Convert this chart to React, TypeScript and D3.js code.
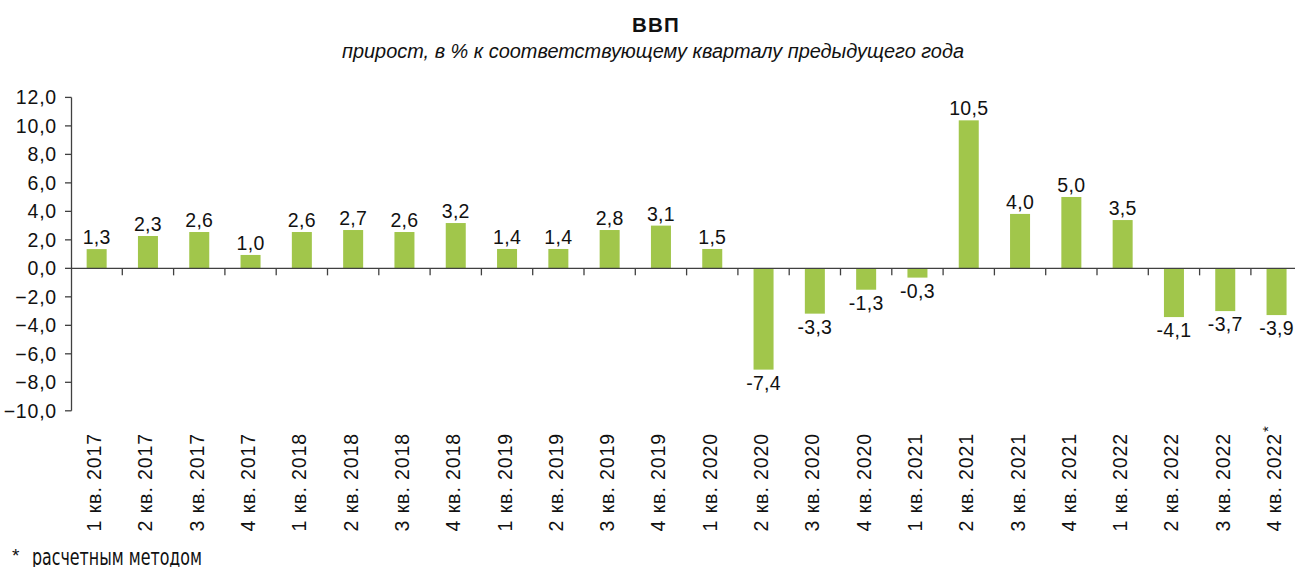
import React from "react";
import * as d3 from "d3";

const categories = [
  "1 кв. 2017", "2 кв. 2017", "3 кв. 2017", "4 кв. 2017",
  "1 кв. 2018", "2 кв. 2018", "3 кв. 2018", "4 кв. 2018",
  "1 кв. 2019", "2 кв. 2019", "3 кв. 2019", "4 кв. 2019",
  "1 кв. 2020", "2 кв. 2020", "3 кв. 2020", "4 кв. 2020",
  "1 кв. 2021", "2 кв. 2021", "3 кв. 2021", "4 кв. 2021",
  "1 кв. 2022", "2 кв. 2022", "3 кв. 2022", "4 кв. 2022",
];
// bar heights as drawn in the picture
const values = [
  1.35, 2.27, 2.55, 0.94, 2.55, 2.69, 2.55, 3.18, 1.36, 1.36, 2.69, 3.0,
  1.36, -7.11, -3.18, -1.5, -0.65, 10.39, 3.82, 5.01, 3.39, -3.42, -3.0, -3.28,
];
// data labels as printed
const labels = [
  "1,3", "2,3", "2,6", "1,0", "2,6", "2,7", "2,6", "3,2", "1,4", "1,4", "2,8", "3,1",
  "1,5", "-7,4", "-3,3", "-1,3", "-0,3", "10,5", "4,0", "5,0", "3,5", "-4,1", "-3,7", "-3,9",
];
const starred = [false, false, false, false, false, false, false, false, false, false, false, false,
  false, false, false, false, false, false, false, false, false, false, false, true];
const yTicks = [-10, -8, -6, -4, -2, 0, 2, 4, 6, 8, 10, 12];

const title = "ВВП";
const subtitle = "прирост, в % к соответствующему кварталу предыдущего года";
const footnote = "расчетным методом";

const W = 1295;
const H = 567;
const FONT = "'Liberation Sans', Arial, Helvetica, sans-serif";
const BAR = "#a1c64b";
const AXIS = "#404040";
const TXT = "#111";

export default function App() {
  const x = d3.scaleBand<string>().domain(categories).range([71, 71 + 24 * 51.3]).paddingInner(0.61).paddingOuter(0.305);
  const xb = d3.scaleBand<string>().domain(categories).range([71, 71 + 24 * 51.3]);
  const y = d3.scaleLinear().domain([-10, 12]).range([410.8, 97.4]);
  const fmt = (v: number) => d3.format(".1f")(v).replace(".", ",");
  const y0 = y(0);

  return (
    <svg width={W} height={H} style={{ position: "absolute", left: 0, top: 0, background: "#fff" }} fontFamily={FONT}>
      <rect width={W} height={H} fill="#fff" />
      <text x={656} y={32} textAnchor="middle" fontWeight="bold" fontSize={20.5} letterSpacing={1.2} fill={TXT}>{title}</text>
      <text x={653} y={58} textAnchor="middle" fontStyle="italic" fontSize={20} fill={TXT} textLength={622} lengthAdjust="spacingAndGlyphs">{subtitle}</text>

      {/* y axis */}
      <line x1={71.5} x2={71.5} y1={y(12)} y2={y(-10)} stroke={AXIS} strokeWidth={1.3} />
      {yTicks.map((t) => (
        <g key={t}>
          <line x1={65} x2={71.5} y1={y(t)} y2={y(t)} stroke={AXIS} strokeWidth={1.3} />
          <text x={57} y={y(t)} dy="0.36em" textAnchor="end" fontSize={19.5} letterSpacing={0.8} fill={TXT}>{fmt(t)}</text>
        </g>
      ))}

      {/* bars */}
      {categories.map((c, i) => {
        const v = values[i];
        const yt = v >= 0 ? y(v) : y0;
        const h = Math.abs(y(v) - y0);
        return <rect key={c} x={x(c)} y={yt} width={x.bandwidth()} height={h} fill={BAR} />;
      })}

      {/* zero line and ticks */}
      <line x1={71} x2={W} y1={y0} y2={y0} stroke={AXIS} strokeWidth={1.3} />
      {categories.slice(1).map((c) => (
        <line key={"t" + c} x1={xb(c)!} x2={xb(c)!} y1={y0} y2={y0 + 7} stroke={AXIS} strokeWidth={1.3} />
      ))}

      {/* data labels */}
      {categories.map((c, i) => {
        const v = values[i];
        const cx = x(c)! + x.bandwidth() / 2;
        const ly = v >= 0 ? y(v) - 5 : y(v) + 20;
        return (
          <text key={"l" + c} x={cx} y={ly} textAnchor="middle" fontSize={19.5} letterSpacing={0.3} fill={TXT}>{labels[i]}</text>
        );
      })}

      {/* category labels */}
      {categories.map((c, i) => {
        const cx = x(c)! + x.bandwidth() / 2 + 4.5;
        return (
          <g key={"c" + c} transform={`translate(${cx},433) rotate(-90)`}>
            <text x={0} y={0} textAnchor="end" fontSize={19.5} letterSpacing={0.9} fill={TXT}>{c}</text>
            {starred[i] && <text x={1} y={-8} fontSize={15} fill={TXT}>*</text>}
          </g>
        );
      })}

      {/* footnote */}
      <text x={12} y={562} fontSize={19} fill={TXT}>*</text>
      <text x={32} y={565} fontSize={23} fill={TXT} fontFamily="'Liberation Sans Narrow', 'DejaVu Sans Condensed', sans-serif" textLength={170} lengthAdjust="spacingAndGlyphs">{footnote}</text>
    </svg>
  );
}
